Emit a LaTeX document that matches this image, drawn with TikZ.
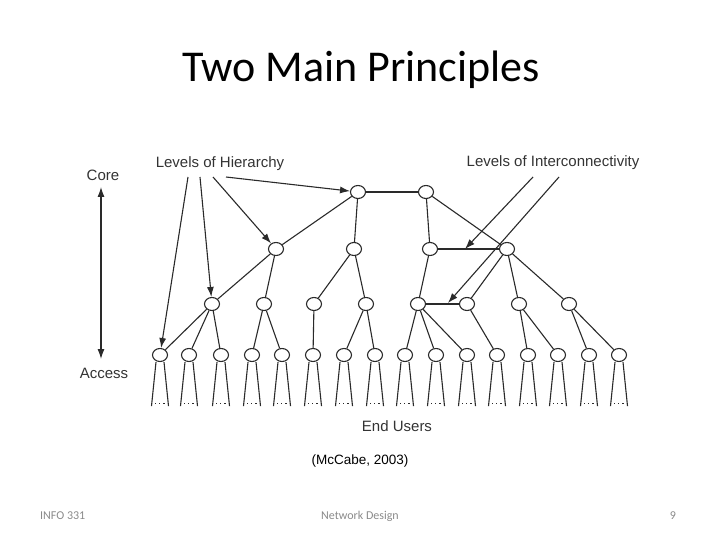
\documentclass[tikz,border=0pt]{standalone}
\usepackage{fontspec}
\setmainfont{Liberation Sans}
\newfontfamily\calibri{Carlito}
\usetikzlibrary{shapes.geometric,arrows.meta,calc}
\definecolor{linec}{HTML}{2A2A2A}
\definecolor{textc}{HTML}{333333}
\definecolor{footc}{HTML}{8A8A8A}
\begin{document}
\begin{tikzpicture}[x=1pt,y=-1pt,
  nd/.style={ellipse, draw=linec, line width=1.1pt, fill=white, minimum width=15pt, minimum height=13pt, inner sep=0pt},
  edge/.style={draw=linec, line width=1.1pt},
  arr/.style={edge, -{Latex[length=10pt,width=7pt]}},
  lbl/.style={font=\fontsize{15}{18}\selectfont, text=textc, inner sep=0pt},
  foot/.style={font=\calibri\fontsize{12}{14}\selectfont, text=footc, inner sep=0pt, anchor=base}]
\useasboundingbox (0,0) rectangle (720,540);

% title
\node[font=\calibri\fontsize{44}{50}\selectfont, anchor=base, inner sep=0pt] (title) at (361,82) {Two Main Principles};

% nodes
\node[nd] (c1) at (358,192) {};
\node[nd] (c2) at (426,192) {};
\node[nd] (d1) at (276,249) {};
\node[nd] (d2) at (354,249) {};
\node[nd] (d3) at (430,249) {};
\node[nd] (d4) at (507,249) {};
\node[nd] (e1) at (212,304) {};
\node[nd] (e2) at (264,304) {};
\node[nd] (e3) at (314,304) {};
\node[nd] (e4) at (366,304) {};
\node[nd] (e5) at (418,304) {};
\node[nd] (e6) at (467,304) {};
\node[nd] (e7) at (519,304) {};
\node[nd] (e8) at (569,304) {};
\foreach \x [count=\i] in {160,189,221,252,282,313,344,375,405,436,467,497,528,558,589,619} {
  \node[nd] (a\i) at (\x,355) {};
  \draw[edge] ([xshift=-4pt]a\i.south) -- ++(-4.5,44);
  \draw[edge] ([xshift=4pt]a\i.south) -- ++(4.5,44);
  \draw[linec, line width=1.1pt, dash pattern=on 1.2pt off 3pt] ([xshift=-5pt,yshift=-41.5pt]a\i.south) -- ++(12,0);
}

% edges
\draw[edge] (c1) -- (c2);
\draw[edge] (c1) -- (d1);
\draw[edge] (c1) -- (d2);
\draw[edge] (c2) -- (d3);
\draw[edge] (c2) -- (d4);
\draw[edge] (d3) -- (d4);
\draw[edge] (d1) -- (e1);
\draw[edge] (d1) -- (e2);
\draw[edge] (d2) -- (e3);
\draw[edge] (d2) -- (e4);
\draw[edge] (d3) -- (e5);
\draw[edge] (d4) -- (e6);
\draw[edge] (d4) -- (e7);
\draw[edge] (d4) -- (e8);
\draw[edge] (e5) -- (e6);
\foreach \p/\c in {e1/a1,e1/a2,e1/a3,e2/a4,e2/a5,e3/a6,e4/a7,e4/a8,e5/a9,e5/a10,e5/a11,e6/a12,e7/a13,e7/a14,e8/a15,e8/a16}
  \draw[edge] (\p) -- (\c);

% labels
\node[lbl] (hier) at (220,164) {Levels of Hierarchy};
\node[lbl] (inter) at (553,163) {Levels of Interconnectivity};
\node[lbl] (core) at (103,175) {Core};
\node[lbl] (access) at (104,373) {Access};
\node[lbl] (endu) at (397,426) {End Users};
\node[font=\fontsize{13.5}{16}\selectfont, inner sep=0pt] (cite) at (360,461) {(McCabe, 2003)};

% hierarchy arrows
\coordinate (h1) at (188,177);
\coordinate (h2) at (200,177);
\coordinate (h3) at (213,177);
\coordinate (h4) at (226,177);
\draw[arr] (h1) -- (a1);
\draw[arr] (h2) -- (e1);
\draw[arr] (h3) -- (d1);
\draw[arr] (h4) -- (c1);

% interconnectivity arrows
\coordinate (i1) at (533,177);
\coordinate (i2) at (559,177);
\coordinate (t1) at (465,249);
\coordinate (t2) at (448,303);
\draw[arr] (i1) -- (t1);
\draw[arr] (i2) -- (t2);

% core-access axis
\coordinate (axt) at (101,187);
\coordinate (axb) at (101,359);
\draw[edge, {Latex[length=10pt,width=7pt]}-{Latex[length=10pt,width=7pt]}] (axt) -- (axb);

% footer
\node[foot, anchor=base west] (f1) at (40,519) {INFO 331};
\node[foot] (f2) at (360,519) {Network Design};
\node[foot] (f3) at (673,519) {9};
\end{tikzpicture}
\end{document}
